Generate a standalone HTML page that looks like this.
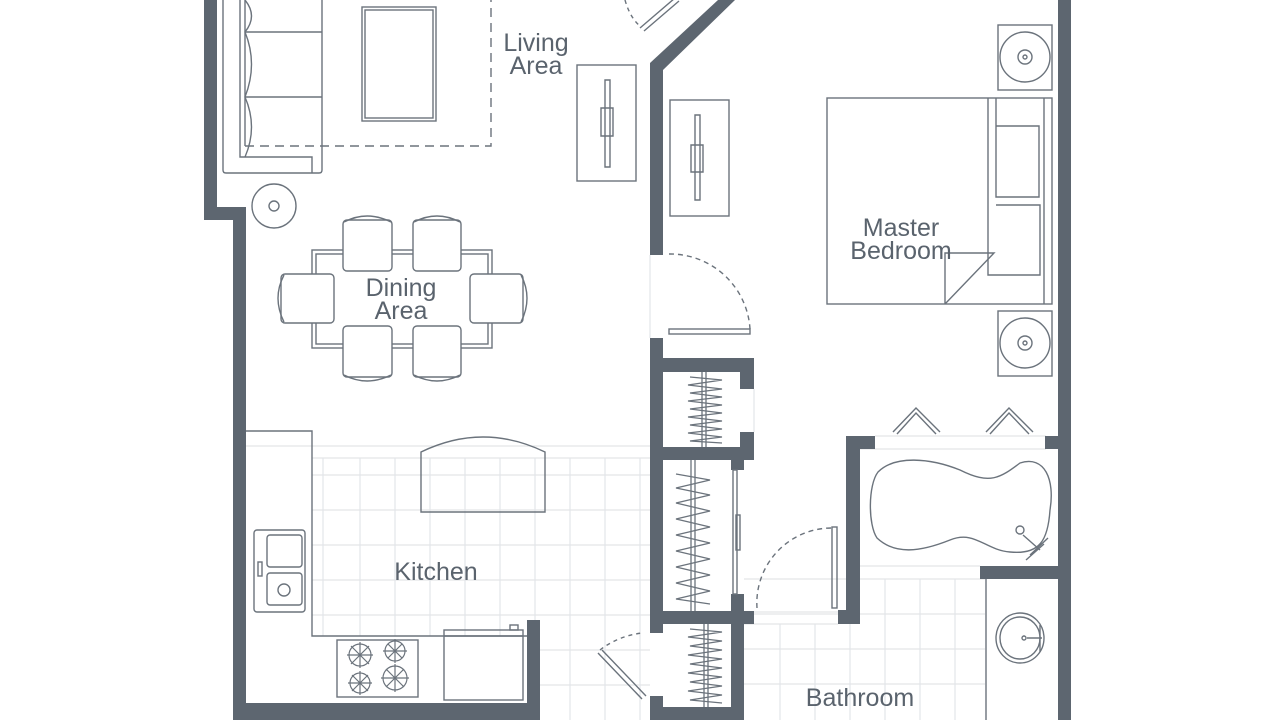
<!DOCTYPE html>
<html><head><meta charset="utf-8"><style>
html,body{margin:0;padding:0;background:#fff;}
svg{display:block}
text{font-family:"Liberation Sans",sans-serif;font-size:25px;fill:#5a636d;text-anchor:middle}
</style></head><body>
<svg width="1280" height="720" viewBox="0 0 1280 720" xmlns="http://www.w3.org/2000/svg">
<g stroke="#e3e5e8" stroke-width="1.2" fill="none">
<line x1="233" y1="446" x2="650" y2="446"/>
<line x1="312" y1="458" x2="650" y2="458"/>
<path d="M312 475H650M312 510H650M312 545H650M312 580H650M312 615H650M540 650H650M540 685H650"/>
<path d="M323 458V636M360 458V636M395 458V636M430 458V636M465 458V636M500 458V636M535 458V720M570 458V720M605 458V720M640 458V720"/>
<path d="M744 579H985M744 614H985M744 649H985M744 684H985"/>
<path d="M780 624V720M815 624V720M850 624V720M885 579V720M920 579V720M955 579V720"/>
<line x1="860" y1="449" x2="1046" y2="449"/>
<line x1="875" y1="436" x2="1046" y2="436"/>
<line x1="860" y1="566" x2="980" y2="566"/>
<line x1="744" y1="612" x2="838" y2="612"/>
<line x1="744" y1="624" x2="838" y2="624"/>
<line x1="754" y1="389" x2="754" y2="432"/>
<line x1="650" y1="255" x2="650" y2="338"/>
</g>
<g fill="#5d6670">
<polygon points="204,0 217,0 217,207 246,207 246,703 527,703 527,620 540,620 540,720 233,720 233,220 204,220"/>
<polygon points="650,63 718,0 735,0 663,70 663,255 650,255"/>
<rect x="650" y="338" width="13" height="295"/>
<rect x="650" y="696" width="13" height="24"/>
<rect x="650" y="358" width="104" height="14"/>
<rect x="740" y="358" width="14" height="31"/>
<rect x="740" y="432" width="14" height="28"/>
<rect x="650" y="447" width="104" height="13"/>
<rect x="731" y="447" width="13" height="23"/>
<rect x="731" y="594" width="13" height="30"/>
<rect x="650" y="611" width="104" height="13"/>
<rect x="731" y="611" width="13" height="109"/>
<rect x="650" y="707" width="94" height="13"/>
<rect x="846" y="436" width="14" height="188"/>
<rect x="838" y="610" width="22" height="14"/>
<rect x="846" y="436" width="29" height="13"/>
<rect x="1045" y="436" width="13" height="13"/>
<rect x="1058" y="0" width="13" height="720"/>
<rect x="980" y="566" width="91" height="13"/>
<rect x="418" y="714" width="12" height="6"/>
</g>
<g stroke="#6b737c" stroke-width="1.4" fill="none">
<path d="M223 0V170Q223 173 226 173H319Q322 173 322 170V0"/>
<path d="M240 0V157H312V173"/>
<path d="M245 0V146"/>
<path d="M245 32H322M245 97H322"/>
<path d="M245 0Q258 16 245 32Q258 64 245 97Q258 127 245 157"/>
<path d="M245 146H491V0" stroke-dasharray="9 6"/>
<rect x="362" y="7" width="74" height="114"/>
<rect x="365" y="10" width="68" height="108"/>
<circle cx="274" cy="206" r="22"/>
<circle cx="274" cy="206" r="5"/>
<rect x="577" y="65" width="59" height="116"/>
<path d="M605 80H610V167H605Z M601 108H613V136H601Z"/>
<path d="M640 28L675 -2M644 31L679 1"/>
<path d="M625 0Q630 18 641 27" stroke-dasharray="4 4"/>
<rect x="312" y="250" width="180" height="98"/>
<rect x="316" y="254" width="172" height="90"/>
<g fill="#fff">
<rect x="343" y="220" width="49" height="51" rx="4"/>
<rect x="413" y="220" width="48" height="51" rx="4"/>
<rect x="343" y="326" width="49" height="51" rx="4"/>
<rect x="413" y="326" width="48" height="51" rx="4"/>
<rect x="281" y="274" width="53" height="49" rx="4"/>
<rect x="470" y="274" width="53" height="49" rx="4"/>
</g>
<path d="M344 222Q367 210 391 222M414 222Q437 210 460 222M344 375Q367 387 391 375M414 375Q437 387 460 375"/>
<path d="M284 275Q272 298 284 322M521 275Q533 298 521 322"/>
<path d="M246 431H312V636H527"/>
<rect x="254" y="530" width="51" height="82" rx="3"/>
<rect x="267" y="535" width="35" height="32" rx="3"/>
<rect x="267" y="573" width="35" height="32" rx="3"/>
<rect x="258" y="562" width="4" height="14"/>
<circle cx="284" cy="590" r="6"/>
<rect x="337" y="640" width="81" height="57"/>
<g stroke-width="1.2">
<circle cx="360" cy="655" r="11"/><circle cx="395" cy="651" r="10"/>
<circle cx="360" cy="683" r="10"/><circle cx="395" cy="678" r="12"/>
<path d="M347 655H373M360 642V668M351 646L369 664M369 646L351 664"/>
<path d="M383 651H407M395 639V663M388 644L402 658M402 644L388 658"/>
<path d="M348 683H372M360 671V695M352 675L368 691M368 675L352 691"/>
<path d="M381 678H409M395 664V692M386 669L404 687M404 669L386 687"/>
</g>
<rect x="444" y="630" width="79" height="70"/>
<path d="M444 636H523"/>
<rect x="510" y="625" width="8" height="5"/>
<path d="M421 512V452Q483 422 545 452V512Z"/>
<path d="M598 653L642 699M602 650L646 696"/>
<path d="M600 650Q618 636 642 633" stroke-dasharray="4 4"/>
<rect x="670" y="100" width="59" height="116"/>
<path d="M695 115H700V200H695Z M691 145H703V172H691Z"/>
<rect x="669" y="329" width="81" height="5"/>
<path d="M669 254A80 80 0 0 1 750 329" stroke-dasharray="5 4"/>
<rect x="827" y="98" width="225" height="206"/>
<path d="M988 98V275H1040V205H996M996 98V197H1039V126H996M1044 98V304"/>
<path d="M945 304V253H994L945 304"/>
<rect x="998" y="25" width="54" height="65"/>
<circle cx="1025" cy="57" r="25"/><circle cx="1025" cy="57" r="7"/><circle cx="1025" cy="57" r="2"/>
<rect x="998" y="311" width="54" height="65"/>
<circle cx="1025" cy="343" r="25"/><circle cx="1025" cy="343" r="7"/><circle cx="1025" cy="343" r="2"/>
<path d="M893 432L916 408L940 432M897 434L916 413L936 434"/>
<path d="M986 432L1009 408L1033 432M990 434L1009 413L1029 434"/>
<path d="M878 472C895 455 930 458 960 470C990 485 1000 478 1020 463C1045 455 1055 480 1050 510C1048 540 1040 555 1010 552C985 550 975 530 950 540C920 552 895 555 877 538C868 525 868 485 878 472Z"/>
<circle cx="1020" cy="530" r="4"/>
<path d="M1023 535L1040 550M1030 555L1048 538M1026 560L1044 544"/>
<rect x="832" y="527" width="5" height="81"/>
<path d="M757 608A75 75 0 0 1 832 528" stroke-dasharray="5 4"/>
<path d="M986 579V720"/>
<ellipse cx="1020" cy="638" rx="24" ry="25"/>
<ellipse cx="1020" cy="638" rx="20" ry="21"/>
<circle cx="1024" cy="638" r="2"/>
<path d="M1027 638H1042M1040 625V652"/>
<rect x="733" y="470" width="4" height="124"/>
<rect x="736" y="515" width="4" height="35"/>
</g>
<g stroke="#6b737c" stroke-width="1.3" fill="none">
<path d="M702 372V447M706 372V447"/>
<path d="M690 377L722 380L688 385L722 389L690 393L722 397L688 401L722 405L690 409L722 413L688 417L722 421L690 425L722 429L688 433L722 437L690 441L722 443"/>
<path d="M691 460V611M695 460V611"/>
<path d="M676 474L710 480L676 488L710 495L676 503L710 511L676 519L710 527L676 535L710 543L676 551L710 559L676 567L710 575L676 583L710 591L676 599L710 604"/>
<path d="M704 624V707M708 624V707"/>
<path d="M690 629L722 632L688 637L722 641L690 646L722 650L688 655L722 659L690 664L722 668L688 673L722 677L690 682L722 686L688 691L722 695L690 700L722 703"/>
</g>
<text x="536" y="51">Living</text>
<text x="536" y="74">Area</text>
<text x="401" y="296">Dining</text>
<text x="401" y="319">Area</text>
<text x="901" y="236">Master</text>
<text x="901" y="259">Bedroom</text>
<text x="436" y="580">Kitchen</text>
<text x="860" y="706">Bathroom</text>
</svg>
</body></html>
